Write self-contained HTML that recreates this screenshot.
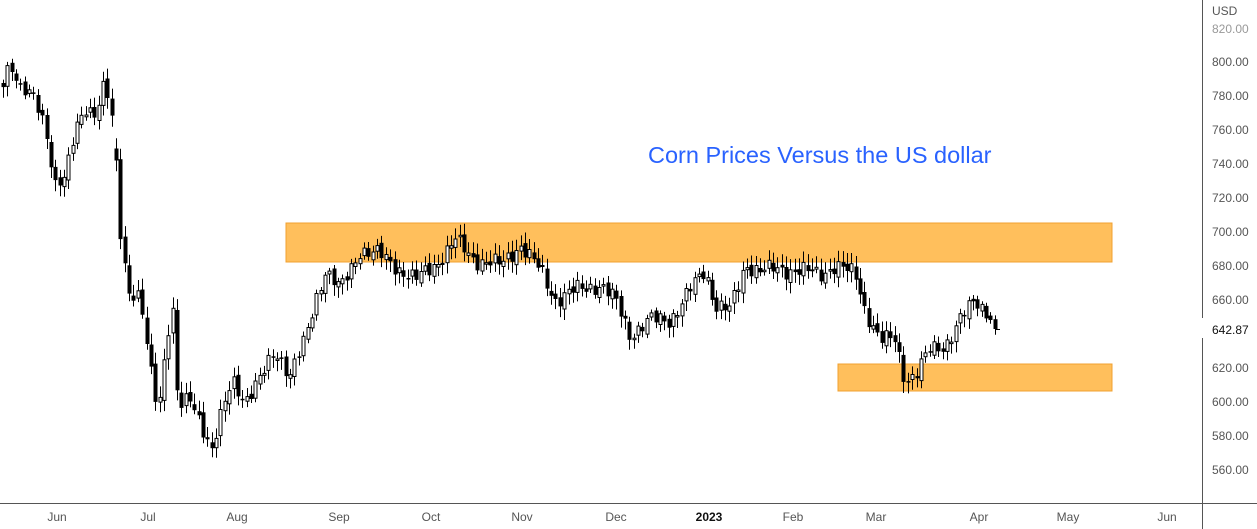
<!DOCTYPE html>
<html><head><meta charset="utf-8"><style>
html,body{margin:0;padding:0;background:#fff;width:1257px;height:529px;overflow:hidden}
svg{display:block;font-family:"Liberation Sans",sans-serif}
</style></head><body>
<svg id="s" width="1257" height="529" xmlns="http://www.w3.org/2000/svg">
<rect x="286" y="223" width="826" height="39" fill="#FFBF5C" stroke="#F0A030" stroke-width="1"/>
<rect x="838" y="364" width="274" height="27" fill="#FFBF5C" stroke="#F0A030" stroke-width="1"/>
<g id="c"></g>
<text x="648" y="163" font-size="23.5" fill="#2962FF">Corn Prices Versus the US dollar</text>
<line x1="1202.5" y1="0" x2="1202.5" y2="318" stroke="#555" stroke-width="1"/>
<line x1="1202.5" y1="338" x2="1202.5" y2="529" stroke="#555" stroke-width="1"/>
<line x1="0" y1="503.5" x2="1257" y2="503.5" stroke="#555" stroke-width="1"/>
<g font-size="12" fill="#555">
<text x="1212" y="15">USD</text>
<text x="1212" y="33" fill="#999">820.00</text>
<text x="1212" y="66">800.00</text>
<text x="1212" y="100">780.00</text>
<text x="1212" y="134">760.00</text>
<text x="1212" y="168">740.00</text>
<text x="1212" y="202">720.00</text>
<text x="1212" y="236">700.00</text>
<text x="1212" y="270">680.00</text>
<text x="1212" y="304">660.00</text>
<text x="1212" y="372">620.00</text>
<text x="1212" y="406">600.00</text>
<text x="1212" y="440">580.00</text>
<text x="1212" y="474">560.00</text>
<text x="1212" y="334" fill="#111">642.87</text>
</g>
<g font-size="12" fill="#555" text-anchor="middle">
<text x="57" y="521">Jun</text><text x="148" y="521">Jul</text><text x="237" y="521">Aug</text>
<text x="339" y="521">Sep</text><text x="431" y="521">Oct</text><text x="522" y="521">Nov</text>
<text x="616" y="521">Dec</text><text x="709" y="521" fill="#111" font-weight="bold">2023</text>
<text x="793" y="521">Feb</text><text x="876" y="521">Mar</text><text x="979" y="521">Apr</text>
<text x="1068" y="521">May</text><text x="1167" y="521">Jun</text>
</g>
</svg>
<script>
(function(){
var NS="http://www.w3.org/2000/svg";
var k=[[3,80],[10,60],[20,90],[35,100],[45,125],[55,185],[65,180],[75,130],[85,105],[95,115],[105,85],[115,135],[118,215],[122,240],[128,290],[140,300],[150,370],[158,410],[165,350],[172,300],[178,410],[190,400],[200,420],[212,450],[220,420],[232,380],[245,400],[260,380],[275,350],[290,375],[305,340],[315,300],[325,270],[340,290],[360,250],[380,255],[400,270],[415,280],[440,260],[455,240],[475,260],[500,265],[520,245],[540,270],[555,300],[575,290],[600,285],[615,300],[630,335],[650,320],[670,320],[690,290],[705,270],[715,305],[730,310],[745,265],[760,270],[780,270],[800,270],[820,275],[835,265],[855,275],[865,310],[880,340],[895,340],[905,380],[915,375],[930,350],[945,345],[960,320],[975,300],[990,315],[995,328]];
function f(x){for(var i=1;i<k.length;i++){if(x<=k[i][0]){var a=k[i-1],b=k[i],t=(x-a[0])/(b[0]-a[0]);return a[1]+(b[1]-a[1])*t;}}return k[k.length-1][1];}
var g=document.getElementById('c');
function el(tag,attrs){var e=document.createElementNS(NS,tag);for(var a in attrs)e.setAttribute(a,attrs[a]);g.appendChild(e);}
var prev=f(3),n=0;
for(var x=3;x<=996;x+=4.35){n++;
var c=f(x)+Math.sin(n*2.3)*6+Math.sin(n*0.7)*4;
if(x>993)c=329;
var o=prev+Math.sin(n*1.7)*3;
if(x>116&&x<120)o=c-12;
var yt=Math.min(o,c),yb=Math.max(o,c);if(yb-yt<1.5)yb=yt+1.5;
var hi=yt-3-Math.abs(Math.sin(n*3.1))*8,lo=yb+3+Math.abs(Math.cos(n*2.9))*8;
var xx=Math.round(x)+0.5;
el('line',{x1:xx,y1:hi.toFixed(1),x2:xx,y2:lo.toFixed(1),stroke:'#000','stroke-width':1});
if(c<o)el('rect',{x:xx-1.5,y:yt.toFixed(1),width:3,height:(yb-yt).toFixed(1),fill:'#fff',stroke:'#000','stroke-width':1});
else el('rect',{x:xx-2,y:yt.toFixed(1),width:4,height:(yb-yt).toFixed(1),fill:'#000'});
prev=c;}
el('line',{x1:996,y1:329.5,x2:1000,y2:329.5,stroke:'#000'});
})();
</script>
</body></html>
